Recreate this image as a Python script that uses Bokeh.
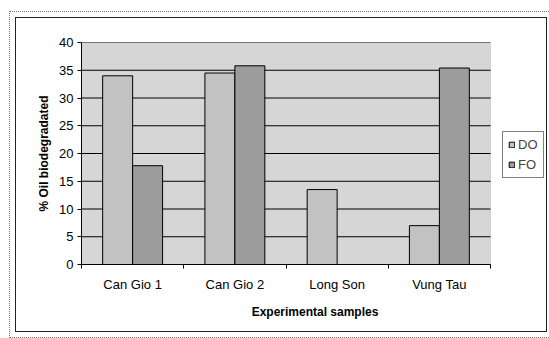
from bokeh.plotting import figure
from bokeh.models import Range1d, FixedTicker, Legend, LegendItem, ColumnDataSource, BoxAnnotation
from bokeh.embed import file_html
from bokeh.resources import INLINE

categories = ["Can Gio 1", "Can Gio 2", "Long Son", "Vung Tau"]
do_values = [34.0, 34.5, 13.5, 7.0]
fo_values = [17.8, 35.8, 0.0, 35.4]
y_ticks = [0, 5, 10, 15, 20, 25, 30, 35, 40]

n = len(categories)
bar_w = 0.293
centers = [i + 0.5 for i in range(n)]
src_do = ColumnDataSource(dict(x=[c - bar_w / 2 for c in centers], top=do_values))
src_fo = ColumnDataSource(dict(x=[c + bar_w / 2 for c in centers], top=fo_values))

# frame spans to the right edge so the legend can sit inside it; data area is x in [0, n]
x_end = n * 467.0 / 409.0
p = figure(width=532, height=315, output_backend="svg", toolbar_location=None,
           x_range=Range1d(0, x_end), y_range=Range1d(0, 40),
           min_border_left=65, min_border_right=0, min_border_top=24, min_border_bottom=69)
p.margin = (17, 0, 0, 15)
p.styles = {"border": "1px solid #222", "outline": "1px dotted #777", "outline-offset": "5px"}

p.background_fill_color = "white"
p.border_fill_color = "white"
p.outline_line_color = None

p.add_layout(BoxAnnotation(left=0, right=n, bottom=0, top=40, fill_color="#d6d6d6",
                           fill_alpha=1, line_color="#999999", line_width=1, level="underlay"))

p.segment(x0=[0] * len(y_ticks), x1=[n] * len(y_ticks), y0=y_ticks, y1=y_ticks,
          line_color="black", line_width=1)

r_do = p.vbar(x="x", top="top", width=bar_w, source=src_do, fill_color="#c2c2c2",
              line_color="black", line_width=1)
r_fo = p.vbar(x="x", top="top", width=bar_w, source=src_fo, fill_color="#9c9c9c",
              line_color="black", line_width=1)

FONT = "Liberation Sans"

p.xaxis.bounds = (0, n)
p.xaxis.ticker = FixedTicker(ticks=centers, minor_ticks=list(range(n + 1)))
p.xaxis.major_label_overrides = {c: name for c, name in zip(centers, categories)}
p.xaxis.major_tick_line_color = None
p.xaxis.major_tick_out = 0
p.xaxis.major_tick_in = 0
p.xaxis.minor_tick_out = 4
p.xaxis.minor_tick_in = 0
p.xaxis.minor_tick_line_color = "black"
p.xaxis.major_label_standoff = 8
p.xaxis.axis_label = "Experimental samples"
p.xaxis.axis_label_standoff = 10

p.yaxis.ticker = FixedTicker(ticks=y_ticks)
p.yaxis.minor_tick_line_color = None
p.yaxis.major_tick_out = 4
p.yaxis.major_tick_in = 0
p.yaxis.major_label_standoff = 4
p.yaxis.axis_label = "% Oil biodegradated"
p.yaxis.axis_label_standoff = 5

for ax in (p.xaxis, p.yaxis):
    ax.axis_line_color = "black"
    ax.major_label_text_font = FONT
    ax.major_label_text_font_size = "13px"
    ax.major_label_text_color = "black"
    ax.axis_label_text_font = FONT
    ax.axis_label_text_font_size = "12px"
    ax.axis_label_text_font_style = "bold"
    ax.axis_label_text_color = "black"

p.xgrid.grid_line_color = None
p.ygrid.grid_line_color = None

legend = Legend(items=[LegendItem(label="DO", renderers=[r_do]),
                       LegendItem(label="FO", renderers=[r_fo])],
                location=(421, 86))
legend.label_text_font = FONT
legend.label_text_font_size = "13px"
legend.glyph_width = 7
legend.glyph_height = 7
legend.label_standoff = 3
legend.padding = 5
legend.spacing = 5
legend.margin = 0
legend.border_line_color = "black"
legend.border_line_width = 1
legend.background_fill_color = "white"
legend.background_fill_alpha = 1
legend.label_height = 14
p.add_layout(legend)

open("out.html", "w").write(file_html(p, INLINE))
